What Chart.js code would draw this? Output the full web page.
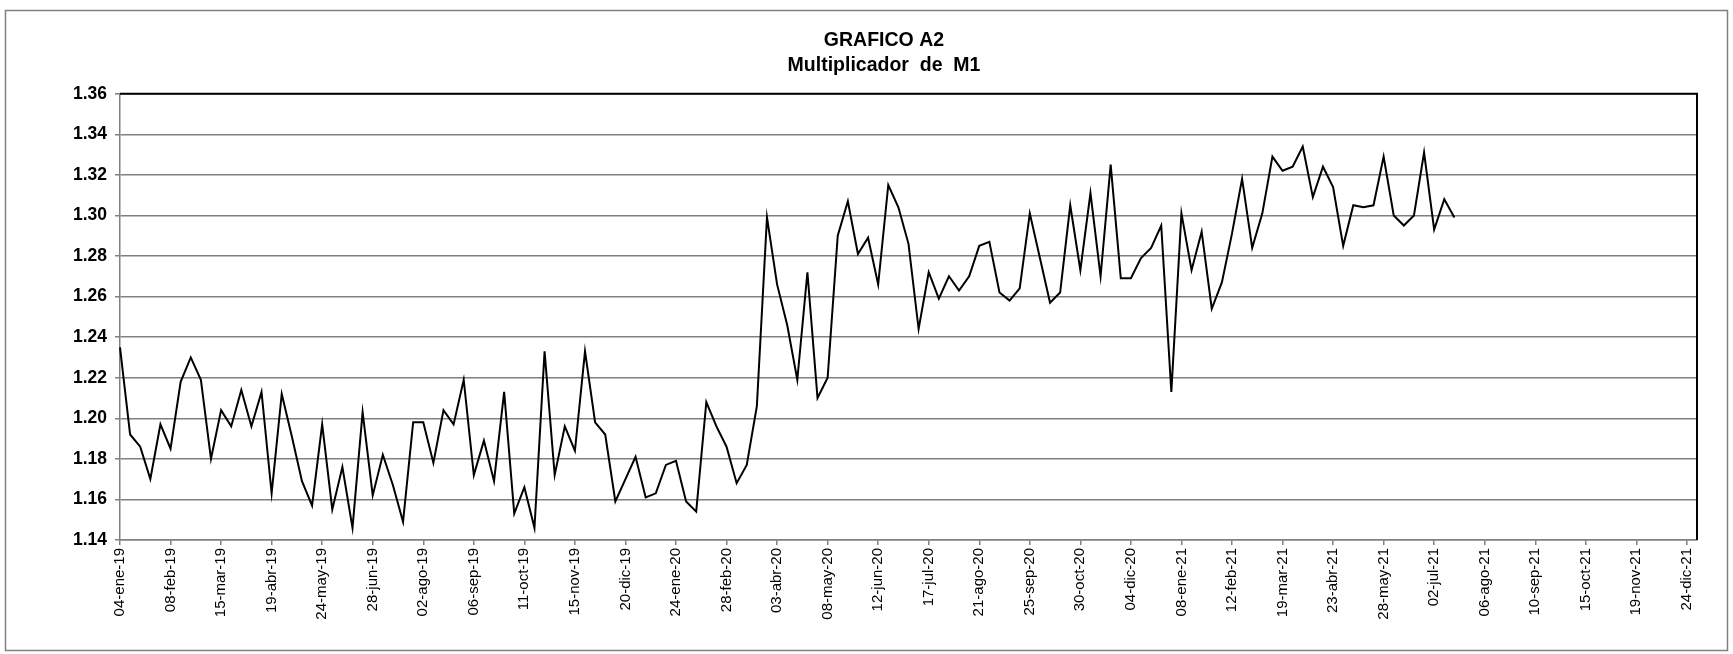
<!DOCTYPE html>
<html lang="es">
<head>
  <meta charset="utf-8">
  <title>GRAFICO A2 - Multiplicador de M1</title>
  <script src="https://cdn.jsdelivr.net/npm/chart.js@4.4.1/dist/chart.umd.min.js"></script>
  <style>
    html, body { margin: 0; padding: 0; background: #fff; }
    #holder { width: 1733px; height: 654px; }
  </style>
</head>
<body>
  <div id="holder"><canvas id="chart" width="1733" height="654"></canvas></div>

<script>
  // weekly series, first value on 04-ene-19
  var firstWeek = '2019-01-04';
  var lastWeek = '2021-12-31';
  var meses = ['ene', 'feb', 'mar', 'abr', 'may', 'jun', 'jul', 'ago', 'sep', 'oct', 'nov', 'dic'];

  var multiplicador = [
    1.235, 1.192, 1.186, 1.170, 1.197, 1.185, 1.218, 1.230, 1.219, 1.180,
    1.204, 1.196, 1.214, 1.196, 1.213, 1.163, 1.212, 1.191, 1.169, 1.157,
    1.197, 1.155, 1.176, 1.146, 1.203, 1.162, 1.182, 1.167, 1.149, 1.198,
    1.198, 1.178, 1.204, 1.197, 1.219, 1.172, 1.189, 1.169, 1.213, 1.153,
    1.166, 1.146, 1.233, 1.172, 1.196, 1.184, 1.233, 1.198, 1.192, 1.159,
    1.170, 1.181, 1.161, 1.163, 1.177, 1.179, 1.159, 1.154, 1.208, 1.196,
    1.186, 1.168, 1.177, 1.206, 1.299, 1.266, 1.246, 1.219, 1.272, 1.210,
    1.220, 1.290, 1.307, 1.281, 1.289, 1.266, 1.315, 1.304, 1.286, 1.244,
    1.272, 1.259, 1.270, 1.263, 1.270, 1.285, 1.287, 1.262, 1.258, 1.264,
    1.301, 1.279, 1.257, 1.262, 1.305, 1.273, 1.311, 1.270, 1.325, 1.269,
    1.269, 1.279, 1.284, 1.295, 1.213, 1.301, 1.273, 1.292, 1.254, 1.267,
    1.291, 1.318, 1.284, 1.301, 1.329, 1.322, 1.324, 1.334, 1.309, 1.324,
    1.314, 1.285, 1.305, 1.304, 1.305, 1.329, 1.300, 1.295, 1.300, 1.331,
    1.293, 1.308, 1.299
  ];

  var yMin = 1.14, yMax = 1.36, yStep = 0.02;
  var labelEvery = 5;

  function fmtFecha(d) {
    var dd = String(d.getUTCDate()).padStart(2, '0');
    var yy = String(d.getUTCFullYear()).slice(2);
    return dd + '-' + meses[d.getUTCMonth()] + '-' + yy;
  }

  var semanas = [];
  var d = new Date(firstWeek + 'T00:00:00Z');
  var fin = new Date(lastWeek + 'T00:00:00Z');
  while (d <= fin) {
    semanas.push(fmtFecha(d));
    d = new Date(d.getTime() + 7 * 86400000);
  }

  var GRIS = '#808080';

  // black border on top/right of plot area + grey frame around the whole chart
  var marcos = {
    id: 'marcos',
    afterDraw: function (chart) {
      var c = chart.ctx, a = chart.chartArea;
      c.save();
      c.strokeStyle = '#000';
      c.lineWidth = 2;
      c.beginPath();
      c.moveTo(a.left, a.top);
      c.lineTo(a.right, a.top);
      c.lineTo(a.right, a.bottom);
      c.stroke();
      c.strokeStyle = GRIS;
      c.lineWidth = 1.5;
      c.strokeRect(5.5, 10.5, 1722, 640);
      c.restore();
    }
  };

  var config = {
    type: 'line',
    data: {
      labels: semanas,
      datasets: [{
        data: multiplicador,
        borderColor: '#000',
        borderWidth: 2,
        pointRadius: 0,
        tension: 0,
        fill: false
      }]
    },
    options: {
      responsive: false,
      animation: false,
      events: [],
      layout: { padding: { left: 71, right: 36, top: 0, bottom: 0 } },
      plugins: {
        legend: { display: false },
        tooltip: { enabled: false },
        title: {
          display: true,
          text: ['GRAFICO A2', 'Multiplicador  de  M1'],
          color: '#000',
          font: { family: 'Liberation Sans', size: 19.5, weight: 'bold', lineHeight: 1.3 },
          padding: { top: 28, bottom: 15 }
        }
      },
      scales: {
        x: {
          type: 'category',
          offset: false,
          grid: { drawOnChartArea: false, drawTicks: true, tickLength: 5, color: GRIS, lineWidth: 1.5 },
          border: { color: GRIS, width: 1.5 },
          ticks: {
            autoSkip: false,
            maxRotation: 90,
            minRotation: 90,
            padding: 3,
            color: '#000',
            font: { family: 'Liberation Sans', size: 15 },
            callback: function (v, i) {
              return i % labelEvery === 0 ? this.getLabelForValue(v) : null;
            }
          },
          afterFit: function (s) { s.height = 114; }
        },
        y: {
          min: yMin,
          max: yMax,
          grid: { color: GRIS, lineWidth: 1.5, tickLength: 5 },
          border: { color: GRIS, width: 1.5 },
          ticks: {
            stepSize: yStep,
            padding: 8,
            color: '#000',
            font: { family: 'Liberation Sans', size: 17.5, weight: 'bold' },
            callback: function (v) { return v.toFixed(2); }
          },
          afterFit: function (s) { s.width = 49; }
        }
      }
    },
    plugins: [marcos]
  };

  window.onload = function () {
    var ctx = document.getElementById('chart').getContext('2d');
    window.grafico = new Chart(ctx, config);
  };
</script>
</body>
</html>
